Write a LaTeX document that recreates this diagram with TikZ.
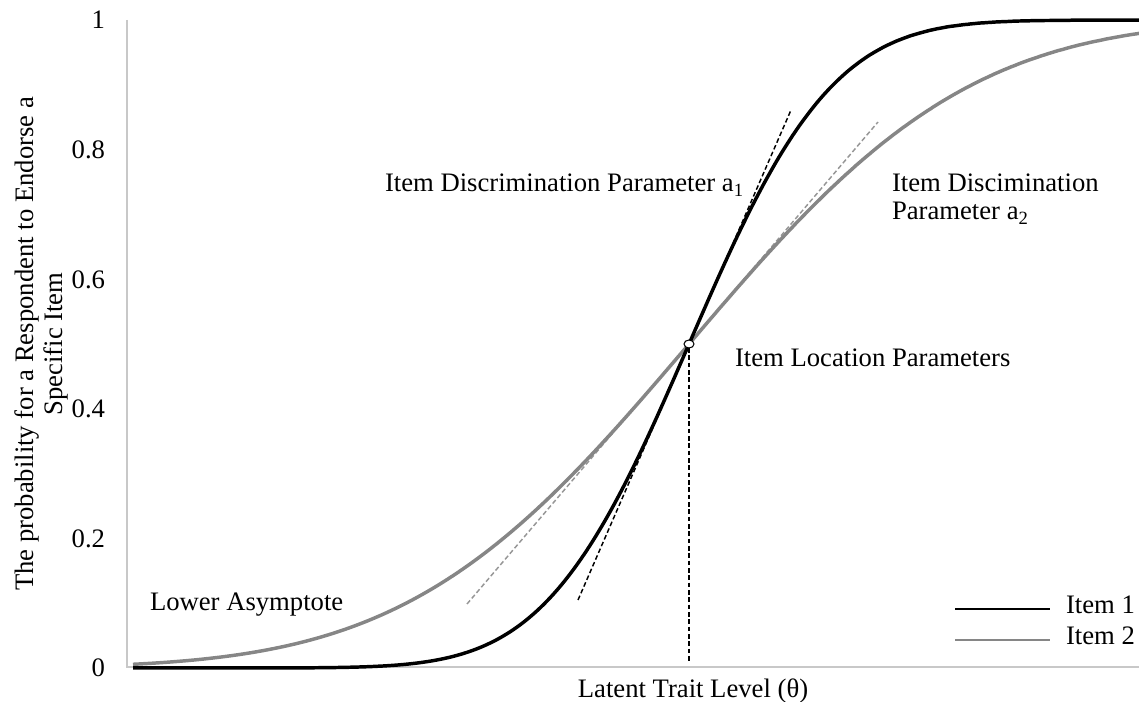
\documentclass[tikz,border=0pt]{standalone}
\usepackage{fontspec}
\setmainfont{Liberation Serif}
\usetikzlibrary{shapes.geometric}
\definecolor{axisgrey}{RGB}{200,200,200}
\definecolor{curvegrey}{RGB}{134,134,134}
\definecolor{dashgrey}{RGB}{150,150,150}
\begin{document}
\begin{tikzpicture}[x=0.75pt,y=-0.75pt,
  declare function={
    zc(\t)=min(max(\t,-3.5),3.5);
    ogive(\t)=1/(1+exp(-(1.5976*zc(\t)+0.07056*zc(\t)*zc(\t)*zc(\t))));
  },
  every node/.style={inner sep=0pt, outer sep=0pt},
  txt/.style={font=\fontsize{20}{21.75}\selectfont},
  axisline/.style={draw=axisgrey, line width=1.5pt},
  curveone/.style={draw=black, line width=2.6pt},
  curvetwo/.style={draw=curvegrey, line width=2.6pt},
  tanone/.style={draw=black, line width=1.1pt, dash pattern=on 3.5pt off 2pt},
  tantwo/.style={draw=dashgrey, line width=1.1pt, dash pattern=on 3.5pt off 2pt},
  legone/.style={draw=black, line width=1.2pt},
  legtwo/.style={draw=curvegrey, line width=1.2pt},
  locmark/.style={ellipse, draw=black, fill=white, line width=0.8pt,
                  minimum width=7.5pt, minimum height=6pt}]
\useasboundingbox (0,0) rectangle (1139,702);

% axes
\coordinate (ytop) at (127,20);
\coordinate (orig) at (127,667);
\coordinate (xend) at (1139,667);
\draw[axisline] (ytop) -- (127,668);
\draw[axisline] (orig) -- (xend);

% tick labels
\foreach \v/\yy in {0/668,0.2/539,0.4/409,0.6/280,0.8/150,1/20}
  \node[txt, anchor=east] at (105,\yy) {\v};

% axis titles
\node[txt, rotate=90, align=center] (ylab) at (41,344)
  {The probability for a Respondent to Endorse a\\Specific Item};
\node[txt, anchor=base] (xlab) at (693,697) {Latent Trait Level (θ)};

% tangent lines at the location point
\coordinate (t1a) at (578,600);
\coordinate (t1b) at (791,110);
\coordinate (t2a) at (467,604);
\coordinate (t2b) at (878,122);
\draw[tantwo] (t2a) -- (t2b);
\draw[tanone] (t1a) -- (t1b);

% item characteristic curves (normal ogives)
\draw[curvetwo] plot[domain=133:1139, samples=300]
  (\x, {668-648*ogive(0.00453*(\x-689))});
\draw[curveone] plot[domain=133:1139, samples=300]
  (\x, {668-648*ogive(0.0089*(\x-689))});

% location marker and drop line
\node[locmark] (loc) at (689,344) {};
\coordinate (locfoot) at (689,662);
\draw[tanone] (loc.south) -- (locfoot);

% annotations
\node[txt, anchor=base west] (lblloc) at (735,367) {Item Location Parameters};
\node[txt, anchor=base west] (lbla1) at (385,192) {Item Discrimination Parameter a\textsubscript{1}};
\node[txt, anchor=base west] (lbla2) at (892,192) {Item Discimination};
\node[txt, anchor=base west] (lbla2b) at (892,220) {Parameter a\textsubscript{2}};
\node[txt, anchor=base west] (lbllow) at (150,610) {Lower Asymptote};

% legend
\coordinate (l1a) at (955,609);
\coordinate (l1b) at (1050,609);
\coordinate (l2a) at (955,640);
\coordinate (l2b) at (1050,640);
\draw[legone] (l1a) -- (l1b);
\draw[legtwo] (l2a) -- (l2b);
\node[txt, anchor=base west] (leg1) at (1066,613) {Item 1};
\node[txt, anchor=base west] (leg2) at (1066,644) {Item 2};
\end{tikzpicture}
\end{document}
